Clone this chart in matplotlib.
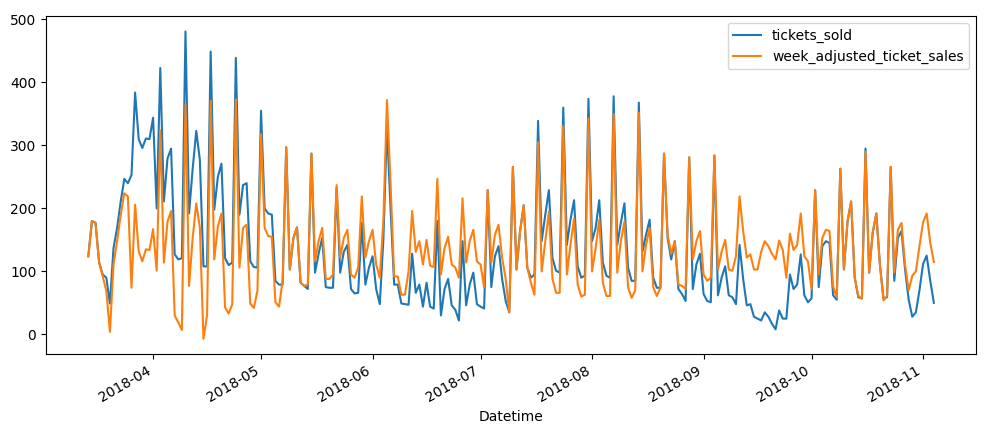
import matplotlib
matplotlib.use("Agg")
import matplotlib.pyplot as plt
import pandas as pd

start_date = "2018-03-14"

tickets_sold = [
    124, 180, 177, 114, 95, 90, 49, 137, 169, 211, 247, 240, 253, 384, 310, 296, 311, 310, 344, 200, 423,
    211, 279, 295, 127, 119, 121, 481, 192, 263, 323, 277, 108, 108, 449, 198, 250, 271, 121, 110, 114,
    439, 190, 237, 240, 116, 107, 106, 355, 200, 192, 190, 85, 79, 79, 297, 103, 153, 170, 82, 77,
    72, 287, 98, 128, 153, 75, 74, 74, 232, 98, 131, 142, 72, 65, 66, 177, 79, 106, 124, 72,
    48, 150, 330, 200, 79, 79, 49, 48, 47, 128, 66, 79, 44, 82, 44, 41, 180, 30, 72, 88,
    46, 39, 22, 148, 46, 79, 98, 48, 44, 41, 229, 75, 124, 140, 88, 53, 35, 266, 103, 164,
    205, 106, 90, 95, 339, 148, 190, 229, 121, 101, 98, 360, 142, 182, 213, 108, 90, 93, 374, 148,
    169, 213, 114, 93, 90, 378, 142, 177, 208, 106, 85, 85, 368, 131, 158, 182, 90, 74, 74, 287,
    153, 119, 148, 72, 64, 53, 281, 72, 111, 128, 64, 53, 51, 284, 62, 90, 108, 62, 59, 48,
    142, 88, 46, 48, 28, 25, 22, 35, 28, 17, 8, 38, 25, 25, 95, 72, 79, 127, 62, 51,
    57, 229, 75, 140, 148, 145, 62, 55, 263, 103, 179, 211, 90, 59, 57, 295, 98, 161, 192, 111,
    57, 59, 266, 85, 153, 164, 103, 55, 28, 35, 70, 112, 125, 85, 50,
]

week_adjusted_ticket_sales = [
    124, 180, 177, 114, 92, 69, 4, 111, 148, 190, 224, 219, 74, 206, 132, 116, 135, 134, 167, 101, 324,
    114, 179, 196, 30, 19, 7, 365, 77, 153, 208, 169, -7, 30, 371, 119, 171, 192, 43, 33, 48,
    373, 106, 169, 174, 49, 42, 69, 318, 169, 156, 155, 51, 44, 85, 297, 103, 153, 170, 82, 77,
    79, 287, 116, 148, 169, 88, 88, 95, 237, 122, 153, 166, 95, 90, 106, 219, 122, 148, 166, 111,
    90, 180, 372, 240, 92, 92, 63, 63, 100, 196, 131, 148, 111, 150, 109, 107, 247, 95, 137, 155,
    111, 106, 90, 216, 114, 148, 166, 116, 111, 75, 229, 114, 158, 174, 122, 88, 35, 266, 103, 164,
    205, 106, 82, 63, 305, 100, 148, 195, 88, 66, 66, 331, 95, 142, 184, 79, 60, 63, 343, 100,
    137, 182, 82, 61, 61, 350, 98, 148, 179, 75, 58, 70, 352, 100, 142, 169, 75, 61, 74, 287,
    158, 128, 148, 79, 77, 72, 281, 119, 148, 164, 95, 85, 90, 284, 103, 131, 150, 103, 101, 124,
    219, 164, 122, 127, 103, 103, 131, 148, 140, 128, 119, 149, 134, 90, 160, 134, 142, 192, 124, 116,
    72, 229, 95, 153, 166, 164, 76, 59, 263, 103, 179, 211, 90, 61, 57, 290, 98, 161, 192, 111,
    54, 61, 266, 98, 166, 177, 111, 70, 93, 100, 140, 178, 192, 145, 115,
]

dates = pd.date_range(start_date, periods=len(tickets_sold), freq="D")
df = pd.DataFrame({"tickets_sold": tickets_sold,
                   "week_adjusted_ticket_sales": week_adjusted_ticket_sales},
                  index=pd.Index(dates, name="Datetime"))

fig, ax = plt.subplots(figsize=(9.86, 4.34), dpi=100)
ax.plot(df.index, df["tickets_sold"], color="#1f77b4", label="tickets_sold", lw=1.5)
ax.plot(df.index, df["week_adjusted_ticket_sales"], color="#ff7f0e",
        label="week_adjusted_ticket_sales", lw=1.5)
ax.legend(loc="upper right")
ax.set_xlabel("Datetime")
ax.set_yticks([0, 100, 200, 300, 400, 500])
for lbl in ax.get_xticklabels():
    lbl.set_rotation(30)
    lbl.set_ha("right")
fig.subplots_adjust(left=0.0467, right=0.99, top=0.963, bottom=0.184)
fig.savefig("out.png", dpi=100)
